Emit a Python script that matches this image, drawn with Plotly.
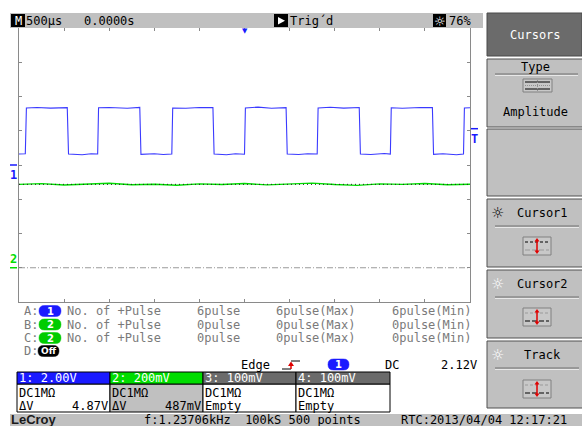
import plotly.graph_objects as go

W, H = 582, 426
MONO = "DejaVu Sans Mono"

ch1_time_ms = [-2.50, -2.43, -2.418, -2.30, -2.15, -1.965,
               -1.951, -1.80, -1.70, -1.628,
               -1.618, -1.50, -1.30, -1.161,
               -1.148, -1.00, -0.90, -0.806,
               -0.796, -0.65, -0.50, -0.350,
               -0.337, -0.20, -0.10, 0.000,
               0.010, 0.15, 0.30, 0.461,
               0.474, 0.60, 0.70, 0.806,
               0.816, 0.95, 1.10, 1.272,
               1.285, 1.40, 1.55, 1.617,
               1.627, 1.75, 1.95, 2.083,
               2.096, 2.20, 2.35, 2.428,
               2.438, 2.50]
ch1_volts = [0.64, 0.66, 3.33, 3.36, 3.32, 3.35,
             0.64, 0.60, 0.66, 0.64,
             3.34, 3.36, 3.31, 3.36,
             0.62, 0.66, 0.61, 0.64,
             3.33, 3.31, 3.36, 3.35,
             0.64, 0.60, 0.66, 0.63,
             3.33, 3.38, 3.31, 3.35,
             0.64, 0.61, 0.66, 0.64,
             3.33, 3.37, 3.32, 3.36,
             0.64, 0.61, 0.67, 0.64,
             3.34, 3.31, 3.36, 3.35,
             0.62, 0.66, 0.60, 0.64,
             3.33, 3.34]
ch2_time_ms = [-2.50, -2.25, -2.00, -1.75, -1.50, -1.25, -1.00, -0.75, -0.50, -0.25, 0.00,
               0.25, 0.50, 0.75, 1.00, 1.25, 1.50, 1.75, 2.00, 2.25, 2.50]
ch2_volts = [0.487, 0.491, 0.483, 0.489, 0.493, 0.485, 0.488, 0.482, 0.490, 0.486, 0.492,
             0.484, 0.489, 0.494, 0.486, 0.481, 0.490, 0.487, 0.492, 0.485, 0.488]

CH1_V_PER_DIV = 2.0
CH2_V_PER_DIV = 0.2
CH1_POS_DIV = 0.0
CH2_POS_DIV = -3.0
cursor_volts_ch2 = [0.0, 0.487]
trigger_level_v = 2.12
time_per_div_ms = 0.5

status_timebase = "500µs"
status_delay = "0.0000s"
status_trig = "Trig´d"
status_intensity = "76%"

meas_slot = ["A:", "B:", "C:", "D:"]
meas_source = ["1", "2", "2", "Off"]
meas_param = ["No. of +Pulse", "No. of +Pulse", "No. of +Pulse"]
meas_value = ["6pulse", "0pulse", "0pulse"]
meas_max = ["6pulse(Max)", "0pulse(Max)", "0pulse(Max)"]
meas_min = ["6pulse(Min)", "0pulse(Min)", "0pulse(Min)"]

trig_type = "Edge"
trig_source = "1"
trig_coupling = "DC"
trig_level_text = "2.12V"

chan_header = ["1: 2.00V", "2: 200mV", "3: 100mV", "4: 100mV"]
chan_coupling = ["DC1MΩ", "DC1MΩ", "DC1MΩ", "DC1MΩ"]
chan_cursor_label = ["ΔV", "ΔV", "Empty", "Empty"]
chan_cursor_value = ["4.87V", "487mV", "", ""]

menu_title = "Cursors"
menu_type_label = "Type"
menu_type_value = "Amplitude"
menu_cursor_items = ["Cursor1", "Cursor2", "Track"]

footer_logo = "LeCroy"
footer_acq = "f:1.23706kHz  100kS 500 points"
footer_rtc = "RTC:2013/04/04 12:17:21"

# ---------------- colours ----------------
BLUE = "#1a1aff"
TRACE_BLUE = "#3a3aff"
GREEN = "#00dd00"
GREY_BAR = "#c0c0c0"
DARK_GREY = "#6b6b6b"
TEXT_GREY = "#7a7a7a"

# ---------------- helpers (pixel -> paper) ----------------
def X(px):
    return px / W


def Y(py):
    return 1 - py / H


shapes = []
annotations = []


def rect(x0, y0, x1, y1, fill, line="rgba(0,0,0,0)", lw=1, layer="above"):
    shapes.append(dict(type="rect", xref="paper", yref="paper",
                       x0=X(x0), x1=X(x1), y0=Y(y1), y1=Y(y0),
                       fillcolor=fill, line=dict(color=line, width=lw), layer=layer))


def hline(x0, x1, y, color, lw=1, dash="solid"):
    shapes.append(dict(type="line", xref="paper", yref="paper",
                       x0=X(x0), x1=X(x1), y0=Y(y), y1=Y(y),
                       line=dict(color=color, width=lw, dash=dash)))


def vline(x, y0, y1, color, lw=1, dash="solid"):
    shapes.append(dict(type="line", xref="paper", yref="paper",
                       x0=X(x), x1=X(x), y0=Y(y0), y1=Y(y1),
                       line=dict(color=color, width=lw, dash=dash)))


def path(points, fill, line="rgba(0,0,0,0)"):
    d = "M " + " L ".join(f"{X(a):.5f},{Y(b):.5f}" for a, b in points) + " Z"
    shapes.append(dict(type="path", xref="paper", yref="paper", path=d,
                       fillcolor=fill, line=dict(color=line, width=0.5)))


def txt(x, y, s, color="black", size=12, xanchor="left", family=MONO, weight="normal"):
    annotations.append(dict(x=X(x), y=Y(y), xref="paper", yref="paper", text=s,
                            showarrow=False, xanchor=xanchor, yanchor="middle",
                            borderpad=0,
                            font=dict(family=family, size=size, color=color, weight=weight)))


def pill(x0, x1, yc, h, color, label, tcolor="white", size=11):
    r = h / 2
    d = (f"M {X(x0 + r):.5f},{Y(yc - r):.5f} L {X(x1 - r):.5f},{Y(yc - r):.5f} "
         f"Q {X(x1):.5f},{Y(yc - r):.5f} {X(x1):.5f},{Y(yc):.5f} "
         f"Q {X(x1):.5f},{Y(yc + r):.5f} {X(x1 - r):.5f},{Y(yc + r):.5f} "
         f"L {X(x0 + r):.5f},{Y(yc + r):.5f} "
         f"Q {X(x0):.5f},{Y(yc + r):.5f} {X(x0):.5f},{Y(yc):.5f} "
         f"Q {X(x0):.5f},{Y(yc - r):.5f} {X(x0 + r):.5f},{Y(yc - r):.5f} Z")
    shapes.append(dict(type="path", xref="paper", yref="paper", path=d,
                       fillcolor=color, line=dict(color=color, width=0.5)))
    annotations.append(dict(x=X((x0 + x1) / 2), y=Y(yc), xref="paper", yref="paper",
                            text=label, showarrow=False, xanchor="center", yanchor="middle",
                            borderpad=0,
                            font=dict(family="DejaVu Sans", size=size, color=tcolor,
                                      weight="bold")))


def red_arrow(x, y0, y1):
    vline(x, y0 + 2, y1 - 2, "#e00000", 1.5)
    path([(x - 2.5, y0 + 3.5), (x + 2.5, y0 + 3.5), (x, y0)], "#e00000")
    path([(x - 2.5, y1 - 3.5), (x + 2.5, y1 - 3.5), (x, y1)], "#e00000")


def cursor_icon(y0, top_color, bottom_color):
    x0, x1 = 523, 551
    rect(x0, y0, x1, y0 + 18, "#c8c8c8", "#808080", 1)
    hline(x0 + 2, x1 - 2, y0 + 5, top_color, 1, "3px,2px")
    hline(x0 + 2, x1 - 2, y0 + 13, bottom_color, 1.2, "5px,2px")
    red_arrow((x0 + x1) / 2, y0 + 1, y0 + 17)


# ---------------- figure ----------------
fig = go.Figure()

ch1_div = [v / CH1_V_PER_DIV + CH1_POS_DIV for v in ch1_volts]
ch2_div = [v / CH2_V_PER_DIV + CH2_POS_DIV for v in ch2_volts]
cursor_div = [v / CH2_V_PER_DIV + CH2_POS_DIV for v in cursor_volts_ch2]
x_span = [-5 * time_per_div_ms, 5 * time_per_div_ms]

# cursor 1 (ch2 ground, dash-dot grey)
fig.add_trace(go.Scatter(x=x_span, y=[cursor_div[0]] * 2, mode="lines",
                         line=dict(color="#9a9a9a", width=1, dash="6px,2px,1px,2px"),
                         hoverinfo="skip"))
# channel 2 trace
fig.add_trace(go.Scatter(x=ch2_time_ms, y=ch2_div, mode="lines",
                         line=dict(color=GREEN, width=1.4), hoverinfo="skip"))
# cursor 2 (black dotted over ch2)
fig.add_trace(go.Scatter(x=x_span, y=[cursor_div[1]] * 2, mode="lines",
                         line=dict(color="#222222", width=1, dash="1px,3px"),
                         hoverinfo="skip"))
# channel 1 trace
fig.add_trace(go.Scatter(x=ch1_time_ms, y=ch1_div, mode="lines",
                         line=dict(color=TRACE_BLUE, width=1.1), hoverinfo="skip"))

# ---- status bar ----
rect(10, 13, 483, 28, GREY_BAR)
rect(11, 14, 25, 27, "black")
txt(18, 21, "M", "white", 12, "center")
txt(25, 21, status_timebase)
txt(83, 21, status_delay)
rect(274, 14, 288, 27, "black")
path([(278, 17), (278, 24.5), (285, 20.75)], "white")
txt(289, 21, status_trig)
rect(433, 14, 446, 27, "black")
txt(439.5, 21, "☼", "white", 13, "center", family="DejaVu Sans")
txt(448, 21, status_intensity)

# ---- trigger position marker (top, at t=0) ----
annotations.append(dict(x=0, y=Y(31), xref="x", yref="paper", text="▼", showarrow=False,
                        xanchor="center", yanchor="middle", borderpad=0,
                        font=dict(family="DejaVu Sans", size=7, color=BLUE)))

# ---- channel ground / trigger level markers ----
shapes.append(dict(type="line", xref="paper", yref="y", x0=X(10), x1=X(17),
                   y0=CH1_POS_DIV, y1=CH1_POS_DIV, line=dict(color=BLUE, width=1.5)))
annotations.append(dict(x=X(13.5), y=CH1_POS_DIV, xref="paper", yref="y", text="1",
                        showarrow=False, xanchor="center", yanchor="top", yshift=-2,
                        borderpad=0, font=dict(family=MONO, size=12, color=BLUE, weight="bold")))
shapes.append(dict(type="line", xref="paper", yref="y", x0=X(10), x1=X(17),
                   y0=CH2_POS_DIV, y1=CH2_POS_DIV, line=dict(color=GREEN, width=1.5)))
annotations.append(dict(x=X(13.5), y=CH2_POS_DIV, xref="paper", yref="y", text="2",
                        showarrow=False, xanchor="center", yanchor="bottom", yshift=1,
                        borderpad=0, font=dict(family=MONO, size=12, color=GREEN, weight="bold")))
trig_div = trigger_level_v / CH1_V_PER_DIV + CH1_POS_DIV
shapes.append(dict(type="line", xref="paper", yref="y", x0=X(471), x1=X(478),
                   y0=trig_div, y1=trig_div, line=dict(color=BLUE, width=1.5)))
annotations.append(dict(x=X(474.5), y=trig_div, xref="paper", yref="y", text="T",
                        showarrow=False, xanchor="center", yanchor="top", yshift=-2,
                        borderpad=0, font=dict(family=MONO, size=12, color=BLUE, weight="bold")))

# ---- measurement rows ----
row_y = [311, 324.5, 338, 351]
src_col = [BLUE, "#00cc00", "#00cc00", "black"]
for i in range(4):
    txt(23, row_y[i], meas_slot[i], TEXT_GREY)
    if meas_source[i] == "Off":
        pill(38, 59, row_y[i], 11, "black", meas_source[i], size=9)
    else:
        pill(39, 61, row_y[i], 11, src_col[i], meas_source[i], size=10)
    if i < 3:
        txt(66, row_y[i], meas_param[i], TEXT_GREY)
        txt(196, row_y[i], meas_value[i], TEXT_GREY)
        txt(275, row_y[i], meas_max[i], TEXT_GREY)
        txt(391, row_y[i], meas_min[i], TEXT_GREY)

# ---- trigger row ----
TRY = 364.5
txt(240, TRY, trig_type)
hline(282, 291, 369, "black", 1)
hline(291, 300, 361, "black", 1)
vline(291, 369, 363, "#e00000", 1.5)
path([(288, 366), (294, 366), (291, 361.5)], "#e00000")
pill(328, 349, TRY, 11, BLUE, trig_source, size=10)
txt(384, TRY, trig_coupling)
txt(478, TRY, trig_level_text, xanchor="right")

# ---- channel boxes ----
box_x = [17, 110, 203, 296, 390]
head_fill = [BLUE, GREEN, DARK_GREY, DARK_GREY]
body_fill = ["white", GREY_BAR, "white", "white"]
for i in range(4):
    x0, x1 = box_x[i], box_x[i + 1]
    rect(x0, 384, x1, 412, body_fill[i], "black", 1)
    rect(x0, 372, x1, 384, head_fill[i], "black", 1)
    txt(x0 + 1, 378, chan_header[i], "white")
    txt(x0 + 1, 393, chan_coupling[i])
    txt(x0 + 1, 406, chan_cursor_label[i])
    if chan_cursor_value[i]:
        txt(x1 - 1, 406, chan_cursor_value[i], xanchor="right")

# ---- right-hand menu ----
rect(487, 13, 582, 56, DARK_GREY, "#4a4a4a", 1)
txt(535, 35, menu_title, "white", 12, "center")

boxes = [(59, 127), (129, 196), (199, 267), (270, 338), (341, 408)]
for (y0, y1) in boxes:
    rect(487, y0, 583, y1, GREY_BAR, "#505050", 1)

# Type box
txt(535, 67, menu_type_label, "black", 12, "center")
hline(495, 578, 74, "#707070", 1)
hline(495, 578, 75.5, "#e8e8e8", 1)
rect(523, 79, 552, 92, "#c8c8c8", "#808080", 1)
hline(525, 550, 82, "black", 1)
hline(525, 550, 89, "black", 1)
hline(525, 550, 85.5, "#909090", 1, "1px,1px")
vline(537.5, 80, 91, "#909090", 1, "1px,1px")
txt(535, 112, menu_type_value, "black", 12, "center")

# Cursor boxes
item_y = [213, 284, 355]
sep_y = [226, 297, 368]
icon_y = [237, 308, 380]
sun_col = ["black", "white", "white"]
icon_cols = [("black", "#9a9a9a"), ("#9a9a9a", "black"), ("#9a9a9a", "black")]
for i in range(3):
    txt(497, item_y[i], "☼", sun_col[i], 15, "center", family="DejaVu Sans")
    txt(542, item_y[i], menu_cursor_items[i], "black", 12, "center")
    hline(495, 579, sep_y[i], "#707070", 1)
    hline(495, 579, sep_y[i] + 1.5, "#e8e8e8", 1)
    cursor_icon(icon_y[i], icon_cols[i][0], icon_cols[i][1])

# ---- footer ----
rect(10, 414, 582, 426, GREY_BAR)
txt(10, 419.5, footer_logo, "#1a1a1a", 13, family="Liberation Sans", weight="bold")
txt(143, 420, footer_acq)
txt(400, 420, footer_rtc)

fig.update_layout(
    width=W, height=H,
    margin=dict(l=0, r=0, t=0, b=0),
    paper_bgcolor="white",
    plot_bgcolor="white",
    showlegend=False,
    shapes=shapes,
    annotations=annotations,
    xaxis=dict(domain=[X(19), X(470)], range=x_span, dtick=time_per_div_ms, tick0=0,
               showgrid=False, zeroline=False, showticklabels=False,
               ticks="inside", ticklen=3, tickcolor="#8a8a8a", mirror="allticks",
               showline=True, linecolor="#8a8a8a", linewidth=1, fixedrange=True),
    yaxis=dict(domain=[Y(302), Y(28)], range=[-4, 4], dtick=1, tick0=0,
               showgrid=False, zeroline=False, showticklabels=False,
               ticks="inside", ticklen=3, tickcolor="#8a8a8a", mirror="allticks",
               showline=True, linecolor="#8a8a8a", linewidth=1, fixedrange=True),
)

fig.write_html("out.html", config={"displayModeBar": False},
               post_script="document.body.style.margin='0';document.body.style.overflow='hidden';")
